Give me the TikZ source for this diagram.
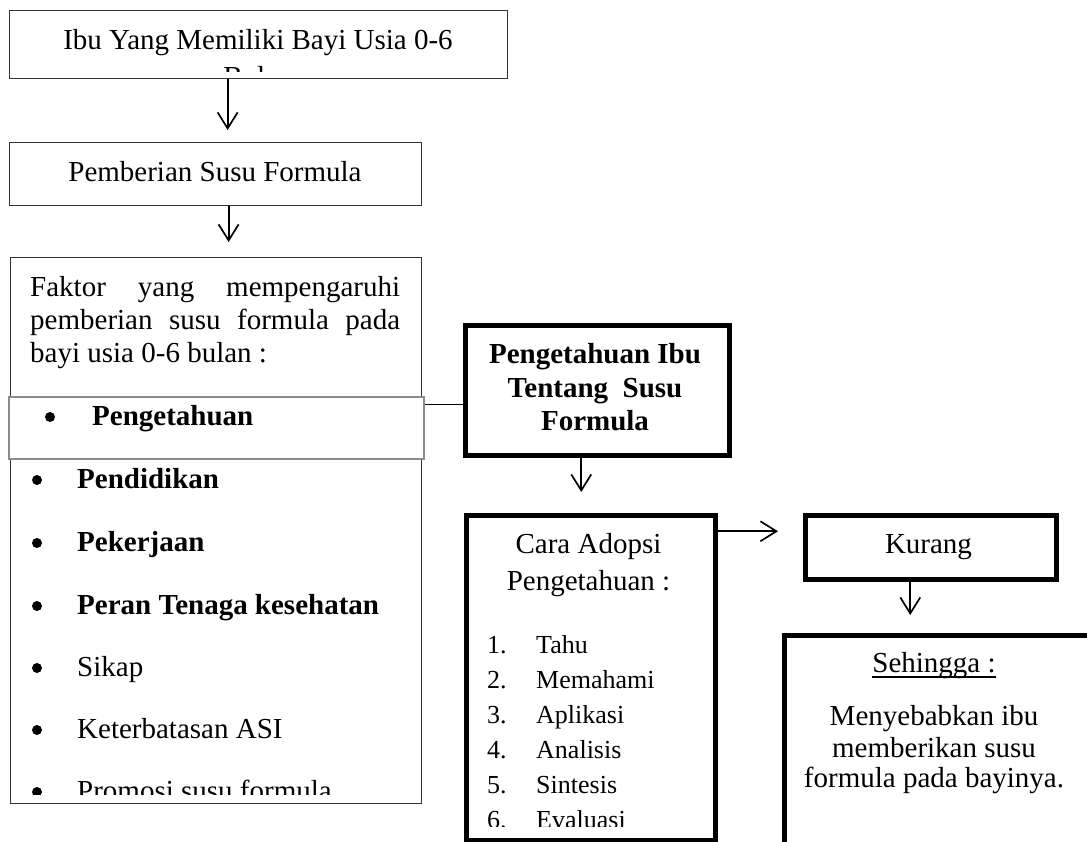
\documentclass[tikz,border=0pt]{standalone}
\usepackage{fontspec}
\setmainfont{Liberation Serif}
\usetikzlibrary{arrows.meta}
\begin{document}
\begin{tikzpicture}[x=1pt,y=-1pt,
  thinbox/.style={draw=black!80, line width=1.3pt, fill=white, inner sep=0pt, anchor=north west},
  thickbox/.style={draw=black, line width=4.5pt, fill=white, inner sep=0pt, anchor=north west},
  graybox/.style={draw=black!45, line width=2pt, fill=white, inner sep=0pt, anchor=north west},
  txt/.style={inner sep=0pt, font=\fontsize{29}{33}\selectfont},
  btxt/.style={inner sep=0pt, font=\fontsize{29}{33}\selectfont\bfseries},
  stxt/.style={inner sep=0pt, font=\fontsize{26}{30}\selectfont},
  bul/.style={circle, fill=black, inner sep=0pt, minimum size=10pt},
  arr/.style={line width=1.7pt, -{Straight Barb[length=16pt,width=20pt]}},
  conn/.style={line width=1.5pt}]
\useasboundingbox (0,0) rectangle (1087,841);

% boxes
\node[thinbox, minimum width=498pt, minimum height=68pt] (b1) at (9,10) {};
\node[thinbox, minimum width=412pt, minimum height=63pt] (b2) at (9,142) {};
\node[thinbox, minimum width=411pt, minimum height=546pt] (b3) at (10,257) {};
\node[graybox, minimum width=415pt, minimum height=62pt] (gp) at (8,396) {};
\node[thickbox, minimum width=264pt, minimum height=130pt] (pib) at (463,323) {};
\node[thickbox, minimum width=249pt, minimum height=325pt] (cara) at (464,513) {};
\node[thickbox, minimum width=251pt, minimum height=64pt] (kur) at (803,513) {};
\node[thickbox, minimum width=310pt, minimum height=240pt] (seh) at (782,633) {};

% box 1 text
\node[txt, anchor=base] (t1a) at (258,49) {Ibu Yang Memiliki Bayi Usia 0-6};
\begin{scope}
  \clip (9,10) rectangle (507,71.5);
  \node[txt, anchor=base] (t1b) at (258,86) {Bulan};
\end{scope}

% box 2 text
\node[txt, anchor=base] (t2) at (215,181) {Pemberian Susu Formula};

% box 3 text
\node[txt, anchor=base west] (f1) at (30,296) {\hbox to 370pt{Faktor\hfil yang\hfil mempengaruhi}};
\node[txt, anchor=base west] (f2) at (30,329) {\hbox to 370pt{pemberian\hfil susu\hfil formula\hfil pada}};
\node[txt, anchor=base west] (f3) at (30,362) {bayi usia 0-6 bulan :};

\node[bul] (bu0) at (50,417) {};
\node[btxt, anchor=base west] (l0) at (92,425) {Pengetahuan};
\begin{scope}
  \clip (10,458) rectangle (421,794);
  \node[bul] (bu1) at (37,480) {};
  \node[btxt, anchor=base west] (l1) at (77,488) {Pendidikan};
  \node[bul] (bu2) at (37,543) {};
  \node[btxt, anchor=base west] (l2) at (77,551) {Pekerjaan};
  \node[bul] (bu3) at (37,606) {};
  \node[btxt, anchor=base west] (l3) at (77,614) {Peran Tenaga kesehatan};
  \node[bul] (bu4) at (37,668) {};
  \node[txt, anchor=base west] (l4) at (77,676) {Sikap};
  \node[bul] (bu5) at (37,730) {};
  \node[txt, anchor=base west] (l5) at (77,738) {Keterbatasan ASI};
  \node[bul] (bu6) at (37,792) {};
  \node[txt, anchor=base west] (l6) at (77,800) {Promosi susu formula};
\end{scope}

% Pengetahuan Ibu box text
\node[btxt, anchor=base] (p1) at (595,363) {Pengetahuan Ibu};
\node[btxt, anchor=base] (p2) at (595,397) {Tentang\ \ Susu};
\node[btxt, anchor=base] (p3) at (595,430) {Formula};

% Cara box text
\node[txt, anchor=base] (c1) at (588.5,553) {Cara Adopsi};
\node[txt, anchor=base] (c2) at (588.5,590) {Pengetahuan :};
\begin{scope}
  \clip (464,513) rectangle (713,826);
  \node[stxt, anchor=base west] (n1) at (487,653) {1.};
  \node[stxt, anchor=base west] (i1) at (536,653) {Tahu};
  \node[stxt, anchor=base west] (n2) at (487,688) {2.};
  \node[stxt, anchor=base west] (i2) at (536,688) {Memahami};
  \node[stxt, anchor=base west] (n3) at (487,723) {3.};
  \node[stxt, anchor=base west] (i3) at (536,723) {Aplikasi};
  \node[stxt, anchor=base west] (n4) at (487,758) {4.};
  \node[stxt, anchor=base west] (i4) at (536,758) {Analisis};
  \node[stxt, anchor=base west] (n5) at (487,793) {5.};
  \node[stxt, anchor=base west] (i5) at (536,793) {Sintesis};
  \node[stxt, anchor=base west] (n6) at (487,828) {6.};
  \node[stxt, anchor=base west] (i6) at (536,828) {Evaluasi};
\end{scope}

% Kurang text
\node[txt, anchor=base] (k1) at (928.5,553) {Kurang};

% Sehingga text
\node[txt, anchor=base] (s0) at (934,672) {Sehingga :};
\draw[line width=1.3pt] ([yshift=-5pt]s0.base west) -- ([yshift=-5pt]s0.base east);
\node[txt, anchor=base] (s1) at (934,725) {Menyebabkan ibu};
\node[txt, anchor=base] (s2) at (934,757) {memberikan susu};
\node[txt, anchor=base] (s3) at (934,787) {formula pada bayinya.};

% connectors
\draw[arr, shorten >=12pt] ([xshift=-31pt]b1.south) -- ([xshift=-31pt]b1.south |- b2.north);
\draw[arr, shorten >=15pt] ([xshift=13pt]b2.south) -- ([xshift=13pt]b2.south |- b3.north);
\draw[conn] ([yshift=-14pt]pib.west) -- ([yshift=-14pt]pib.west -| gp.east);
\draw[arr, shorten >=21pt] ([xshift=-16pt]pib.south) -- ([xshift=-16pt]pib.south |- cara.north);
\draw[arr, shorten >=25pt] ([yshift=146.5pt]cara.east) -- ([yshift=146.5pt]cara.east -| kur.west);
\draw[arr, shorten >=18pt] ([xshift=-20.5pt]kur.south) -- ([xshift=-20.5pt]kur.south |- seh.north);
\end{tikzpicture}
\end{document}
